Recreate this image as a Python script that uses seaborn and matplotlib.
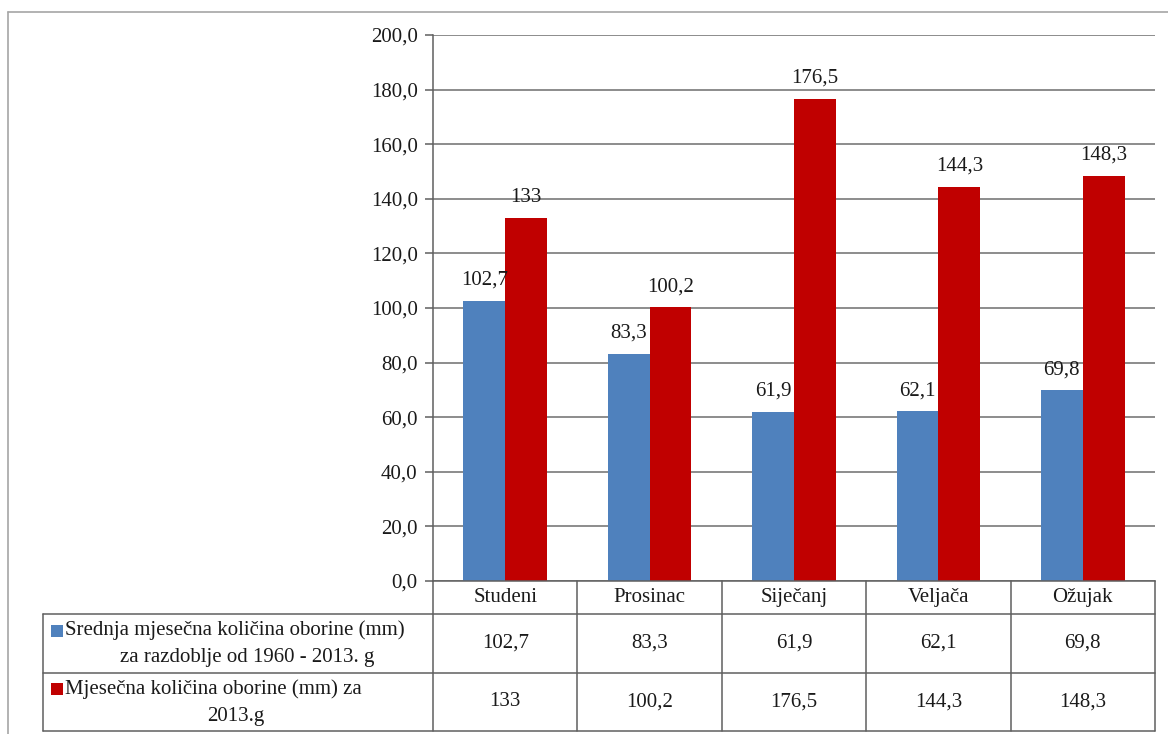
import numpy as np
import pandas as pd
import matplotlib.pyplot as plt
import seaborn as sns
from matplotlib.lines import Line2D
from matplotlib.patches import Rectangle

# podaci
months = ['Studeni', 'Prosinac', 'Siječanj', 'Veljača', 'Ožujak']
series_names = ['Srednja mjesečna količina oborine (mm) za razdoblje od 1960 - 2013. g',
                'Mjesečna količina oborine (mm) za 2013.g']
avg_1960_2013 = [102.7, 83.3, 61.9, 62.1, 69.8]
rain_2013 = [133, 100.2, 176.5, 144.3, 148.3]
y_ticks = [0, 20, 40, 60, 80, 100, 120, 140, 160, 180, 200]
row_label_lines = [['Srednja mjesečna količina oborine (mm)', 'za razdoblje od 1960 - 2013. g'],
                   ['Mjesečna količina oborine (mm) za', '2013.g']]

colors = ['#4F81BD', '#C00000']
FS = 15


def fmt(v):
    # 102.7 -> "102,7", 133 -> "133"
    return f'{v:g}'.replace('.', ',')


df = pd.DataFrame({
    'mjesec': months * 2,
    'serija': [series_names[0]] * len(months) + [series_names[1]] * len(months),
    'oborina': avg_1960_2013 + rain_2013,
})

sns.set_theme(style='white')
plt.rcParams['font.family'] = ['Liberation Serif', 'DejaVu Sans']

W, H = 1168, 734
fig = plt.figure(figsize=(W / 100, H / 100), dpi=100)

# raspored u pikselima
ax_l, ax_r, ax_t, ax_b = 433, 1155, 35, 581
tab_left = 43
row_lines = [614, 673, 731]
ax = fig.add_axes([ax_l / W, 1 - ax_b / H, (ax_r - ax_l) / W, (ax_b - ax_t) / H])

sns.barplot(data=df, x='mjesec', y='oborina', hue='serija', palette=colors,
            width=0.58, saturation=1, legend=False, linewidth=0, ax=ax)

ax.set_xlim(-0.5, len(months) - 0.5)
ax.set_ylim(0, 200)
ax.set_yticks(y_ticks)
ax.yaxis.set_major_formatter(plt.FuncFormatter(lambda x, loc: f'{x:.1f}'.replace('.', ',')))
ax.set_xlabel('')
ax.set_ylabel('')
ax.yaxis.grid(True, color='#6e6e6e', linewidth=1.1)
ax.set_axisbelow(True)
for s in ['top', 'right']:
    ax.spines[s].set_visible(False)
ax.spines['left'].set_color('#5f5f5f')
ax.spines['bottom'].set_color('#5f5f5f')
ax.spines['left'].set_linewidth(1.1)
ax.spines['bottom'].set_linewidth(1.1)
ax.tick_params(axis='y', left=True, length=6, width=1.1, color='#5f5f5f',
               pad=5, labelsize=FS, labelcolor='#1a1a1a')
ax.tick_params(axis='x', bottom=False, labelbottom=False)

# oznake podataka iznad stupaca
for c in ax.containers:
    ax.bar_label(c, labels=[fmt(b.get_height()) for b in c], padding=8,
                 fontsize=FS, color='#1a1a1a')


# tablica podataka ispod grafa
def ay(py):
    return (ax_b - py) / (ax_b - ax_t)


def ax_x(px):
    return (px - ax_l) / (ax_r - ax_l)


tcol = '#5f5f5f'
xt = ax.get_xaxis_transform()
for i in range(len(months) + 1):
    ax.add_line(Line2D([i - 0.5, i - 0.5], [0, ay(row_lines[-1])], transform=xt,
                       color=tcol, lw=1.1, clip_on=False))
for py in row_lines:
    ax.add_line(Line2D([ax_x(tab_left), 1], [ay(py), ay(py)], transform=ax.transAxes,
                       color=tcol, lw=1.1, clip_on=False))
ax.add_line(Line2D([ax_x(tab_left)] * 2, [ay(row_lines[0]), ay(row_lines[-1])],
                   transform=ax.transAxes, color=tcol, lw=1.1, clip_on=False))

head_y = (ax_b + row_lines[0]) / 2
row_y = [(row_lines[0] + row_lines[1]) / 2, (row_lines[1] + row_lines[2]) / 2]
for i, m in enumerate(months):
    ax.text(i, ay(head_y), m, transform=xt, ha='center', va='center',
            fontsize=FS, color='#1a1a1a', clip_on=False)
    for r, vals in enumerate([avg_1960_2013, rain_2013]):
        ax.text(i, ay(row_y[r]), fmt(vals[i]), transform=xt, ha='center', va='center',
                fontsize=FS, color='#1a1a1a', clip_on=False)

label_x2 = [247, 236]
for r in range(2):
    l1, l2 = row_label_lines[r]
    y1 = row_y[r] - 13
    y2 = row_y[r] + 14
    fig.add_artist(Rectangle((51 / W, 1 - (y1 + 6) / H), 12 / W, 12 / H,
                             transform=fig.transFigure, color=colors[r], lw=0))
    fig.text(65 / W, 1 - y1 / H, l1, ha='left', va='center', fontsize=FS, color='#1a1a1a')
    fig.text(label_x2[r] / W, 1 - y2 / H, l2, ha='center', va='center', fontsize=FS, color='#1a1a1a')

# vanjski okvir
fig.add_artist(Line2D([8 / W, 1], [1 - 12 / H] * 2, transform=fig.transFigure, color='#a6a6a6', lw=1.2))
fig.add_artist(Line2D([8 / W] * 2, [0, 1 - 12 / H], transform=fig.transFigure, color='#a6a6a6', lw=1.2))

fig.savefig('out.png', dpi=100)
